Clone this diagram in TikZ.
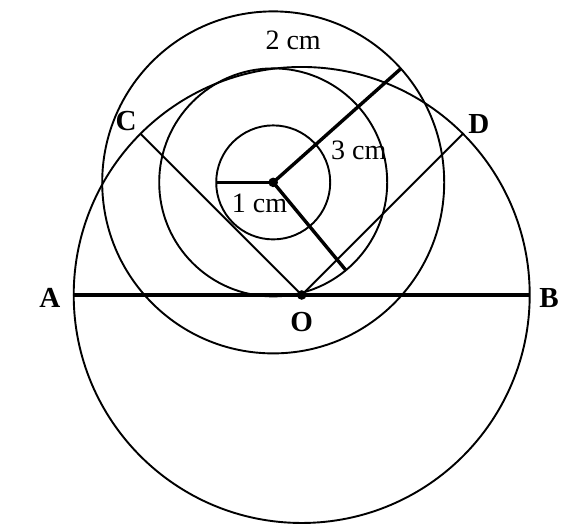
\documentclass[tikz,border=0pt]{standalone}
\usepackage{fontspec}
\setmainfont{Liberation Serif}
\usetikzlibrary{calc}

\begin{document}
\begin{tikzpicture}[
    rim/.style={line width=0.95pt},
    arm/.style={line width=1.7pt},
    lbl/.style={font=\fontsize{14}{16}\selectfont},
    pt/.style={lbl,font=\fontsize{14.5}{16}\selectfont\bfseries}
  ]
      \useasboundingbox (-5.293,-4.070) rectangle (4.882,5.175);

      \path
      (0,0) coordinate(O)
      (-0.5,1.975) coordinate(P)
      (180:4) coordinate(A)
      (0:4) coordinate(B)
      (135:4) coordinate(C)
      (45:4) coordinate(D)
      ($(P)+(180:1)$) coordinate(r1)
      ($(P)+(41.7:3)$) coordinate(r3)
      ($(P)+(-50.4:2)$) coordinate(r2)
      ;
      \path
      (-4.42,-0.05) node[pt](Al) {A}
      (4.34,-0.05) node[pt](Bl) {B}
      (-3.08,3.06) node[pt](Cl) {C}
      (3.11,3.0) node[pt](Dl) {D}
      (0,-0.47) node[pt](Ol) {O}
      ;
      \path
      (-0.74,1.6) node[lbl](l1) {1 cm}
      (-0.15,4.47) node[lbl](l2) {2 cm}
      (1.0,2.54) node[lbl](l3) {3 cm}
      ;

      \draw[rim] (O) circle (4);
      \draw[rim] (P) circle (1);
      \draw[rim] (P) circle (2);
      \draw[rim] (P) circle (3);

      \draw[rim] (O) -- (C);
      \draw[rim] (O) -- (D);
      \draw[arm] (A) -- (B);

      \draw[arm] (P) -- (r1);
      \draw[arm] (P) -- (r2);
      \draw[arm] (P) -- (r3);

      \fill (P) circle (2.4pt);
      \fill (O) circle (2.4pt);
\end{tikzpicture}
\end{document}
